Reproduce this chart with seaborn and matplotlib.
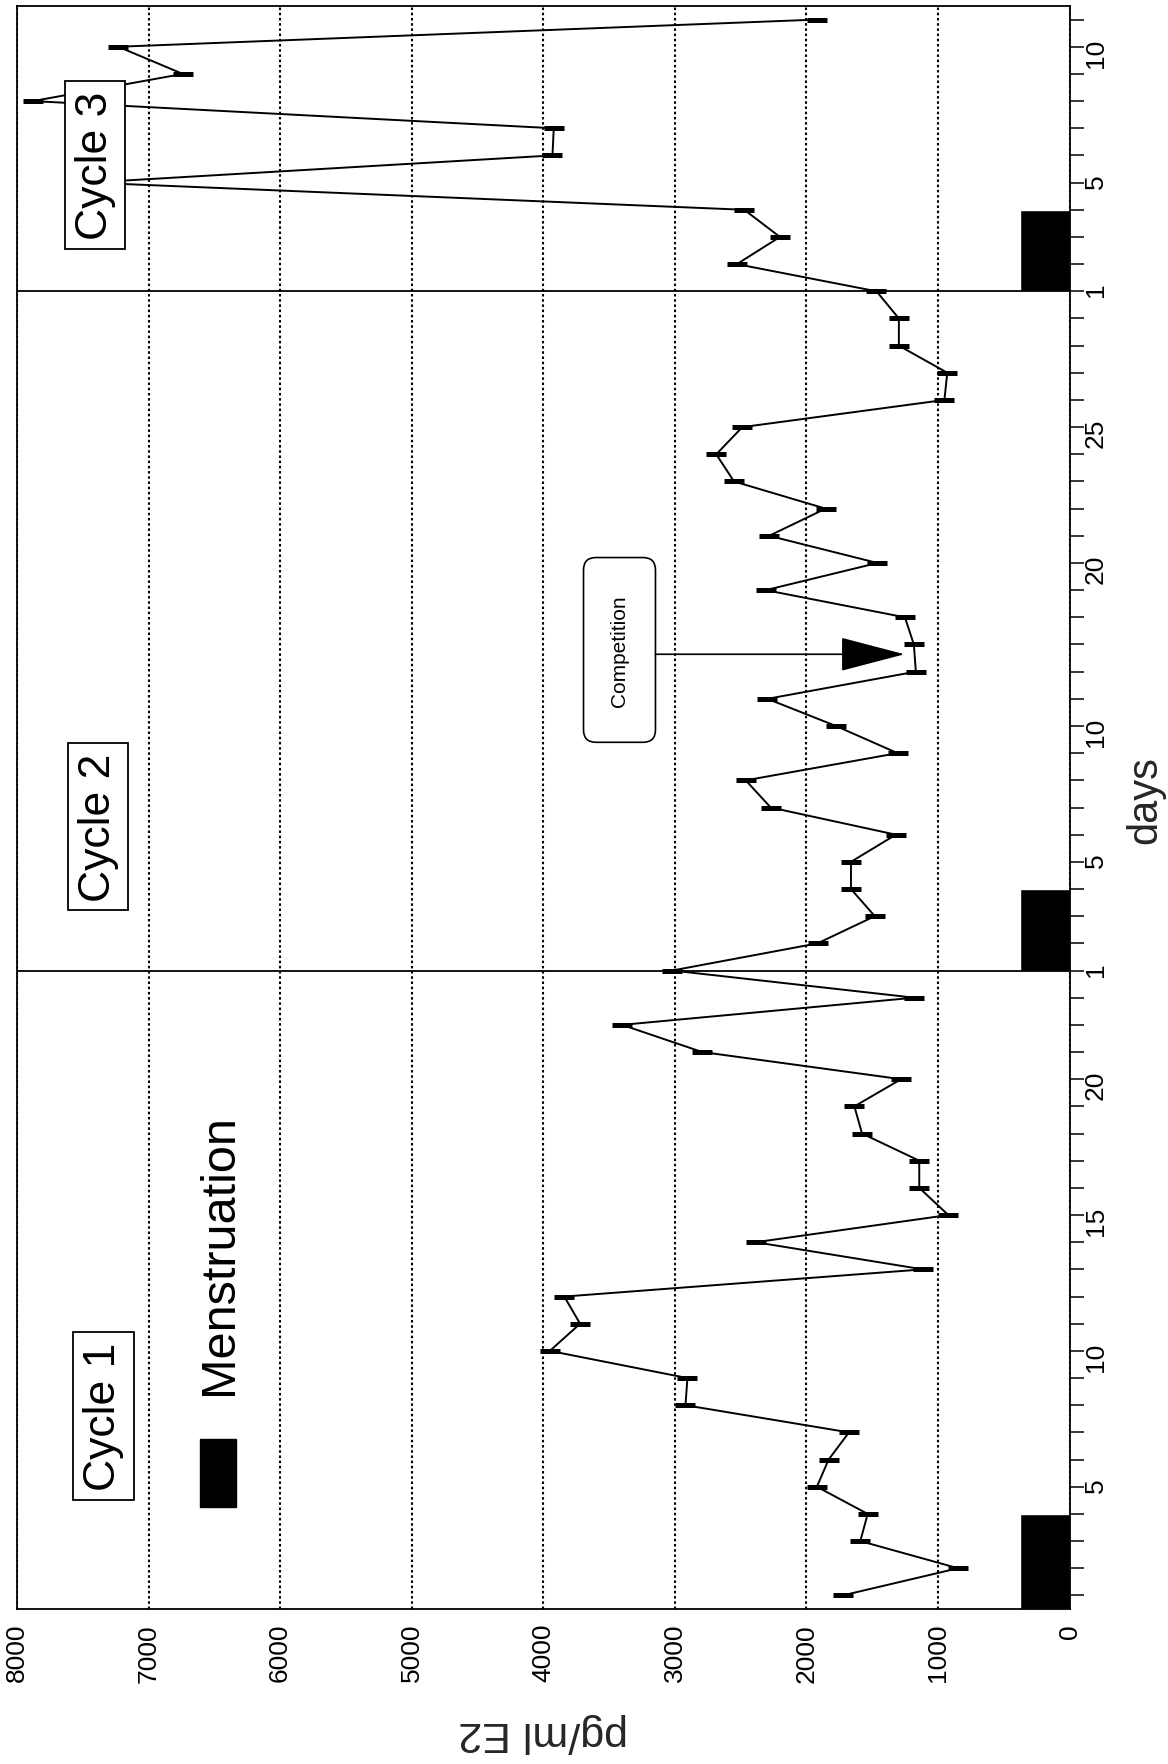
import numpy as np
import pandas as pd
import matplotlib
matplotlib.use("Agg")
import matplotlib.pyplot as plt
import seaborn as sns
from matplotlib.patches import FancyBboxPatch, Rectangle

# ---------------- data ----------------
cycle1_days = list(range(1, 24))
cycle1_e2 = [1724, 847, 1590, 1534, 1920, 1831, 1676, 2919, 2904, 3950, 3720, 3840,
             1114, 2385, 921, 1142, 1142, 1577, 1635, 1280, 2792, 3401, 1180]

cycle2_days = list(range(1, 16)) + list(range(20, 30))
cycle2_e2 = [3020, 1915, 1480, 1661, 1661, 1320, 2271, 2461, 1307, 1775, 2296, 1168,
             1183, 1251, 2309, 1460, 2283, 1854, 2550, 2685, 2487, 951, 929, 1297, 1297]

cycle3_days = list(range(1, 12))
cycle3_e2 = [1467, 2528, 2201, 2472, 7450, 3930, 3920, 7880, 6740, 7230, 1920]

cycle_names = ["Cycle 1", "Cycle 2", "Cycle 3"]
tick_label_days = [[5, 10, 15, 20], [1, 5, 10, 20, 25], [1, 5, 10]]
menses_first_day = [0.5, 1, 1]
menses_last_day = [4, 4, 4]
menses_level = 380
x_ticks = list(range(0, 8001, 1000))

# sample positions along the day axis (one slot per sample, cycles stacked)
cycles = [(cycle1_days, cycle1_e2), (cycle2_days, cycle2_e2), (cycle3_days, cycle3_e2)]
offsets = [0, 23, 48]
pos_all, val_all, tick_pos, tick_lab = [], [], [], []
for ci, ((days, vals), off) in enumerate(zip(cycles, offsets)):
    for k, (d, v) in enumerate(zip(days, vals)):
        p = off + k + 1
        pos_all.append(p)
        val_all.append(v)
        tick_pos.append(p)
        tick_lab.append(str(d) if d in tick_label_days[ci] else "")
df = pd.DataFrame({"pos": pos_all, "value": val_all})

# ---------------- figure ----------------
sns.set_theme(style="white")
plt.rcParams["font.family"] = ["Liberation Sans", "DejaVu Sans"]

fig = plt.figure(figsize=(11.68, 17.65), dpi=100)
ax = fig.add_axes([17 / 1168, 155 / 1765, 1052.5 / 1168, 1603 / 1765])

sns.lineplot(data=df, x="value", y="pos", orient="y", sort=False, estimator=None,
             color="black", lw=1.4, marker="_", markersize=15,
             markeredgewidth=3.6, markeredgecolor="black", ax=ax, zorder=3)

# menstruation bars
for off, d0, d1 in zip(offsets, menses_first_day, menses_last_day):
    ax.barh(y=off + (d0 + d1) / 2, width=menses_level, height=d1 - d0, left=0,
            color="black", zorder=2)

# cycle separators
for off in offsets[1:]:
    ax.axhline(off + 1, color="black", lw=1.3, zorder=2)

ax.set_xlim(8000, 0)
ax.set_ylim(0.5, 59.5)
ax.set_xticks(x_ticks)
ax.set_xticklabels([str(t) for t in x_ticks])
ax.grid(axis="x", color="black", linestyle=(0, (1.2, 1.3)), linewidth=1.5, zorder=0)
ax.grid(axis="y", visible=False)

ax.set_yticks(tick_pos)
ax.set_yticklabels(tick_lab)
ax.yaxis.tick_right()
ax.tick_params(axis="x", direction="out", length=9, width=1.1, labelsize=19,
               labelrotation=90, pad=1, colors="black")
ax.tick_params(axis="y", direction="out", length=10, width=1.1, labelsize=19,
               labelrotation=90, pad=0.5, colors="black", left=False, right=True,
               labelleft=False, labelright=True)
for s in ax.spines.values():
    s.set_color("black")
    s.set_linewidth(1.3)

ax.set_xlabel("pg/ml E2", rotation=180, fontsize=31, va="center", ha="center")
ax.xaxis.set_label_coords(0.5, -0.077)
ax.yaxis.set_label_position("right")
ax.set_ylabel("days", rotation=90, fontsize=30, va="center", ha="center")
ax.yaxis.set_label_coords(1.072, 0.505)

# cycle labels
for name, (v, p) in zip(cycle_names, [(7342, 7.6), (7384, 29.3), (7406, 53.65)]):
    ax.text(v, p, name, rotation=90, ha="center", va="center", fontsize=32,
            color="black", zorder=6,
            bbox=dict(boxstyle="square,pad=0.22", fc="white", ec="black", lw=1.3))

# legend for menstruation
ax.add_patch(Rectangle((6338, 4.25), 274, 2.5, fc="black", ec="black", zorder=5))
ax.text(6460, 8.4, "Menstruation", rotation=90, ha="center", va="bottom",
        fontsize=35, color="black", zorder=6)

# competition annotation
box = FancyBboxPatch((3147, 32.4), 547, 6.8,
                     boxstyle="round,pad=0,rounding_size=95",
                     mutation_aspect=0.0368 / 7.6, fc="white", ec="black",
                     lw=1.2, zorder=6)
ax.add_patch(box)
ax.text(3420, 35.8, "Competition", rotation=90, ha="center", va="center",
        fontsize=15, color="black", zorder=7)
ax.annotate("", xy=(1254, 35.64), xytext=(3147, 35.64),
            arrowprops=dict(arrowstyle="-|>,head_length=2.1,head_width=0.55",
                            mutation_scale=20, color="black", lw=1.2,
                            shrinkA=0, shrinkB=0), zorder=7)

fig.savefig("out.png", dpi=100, facecolor="white")
